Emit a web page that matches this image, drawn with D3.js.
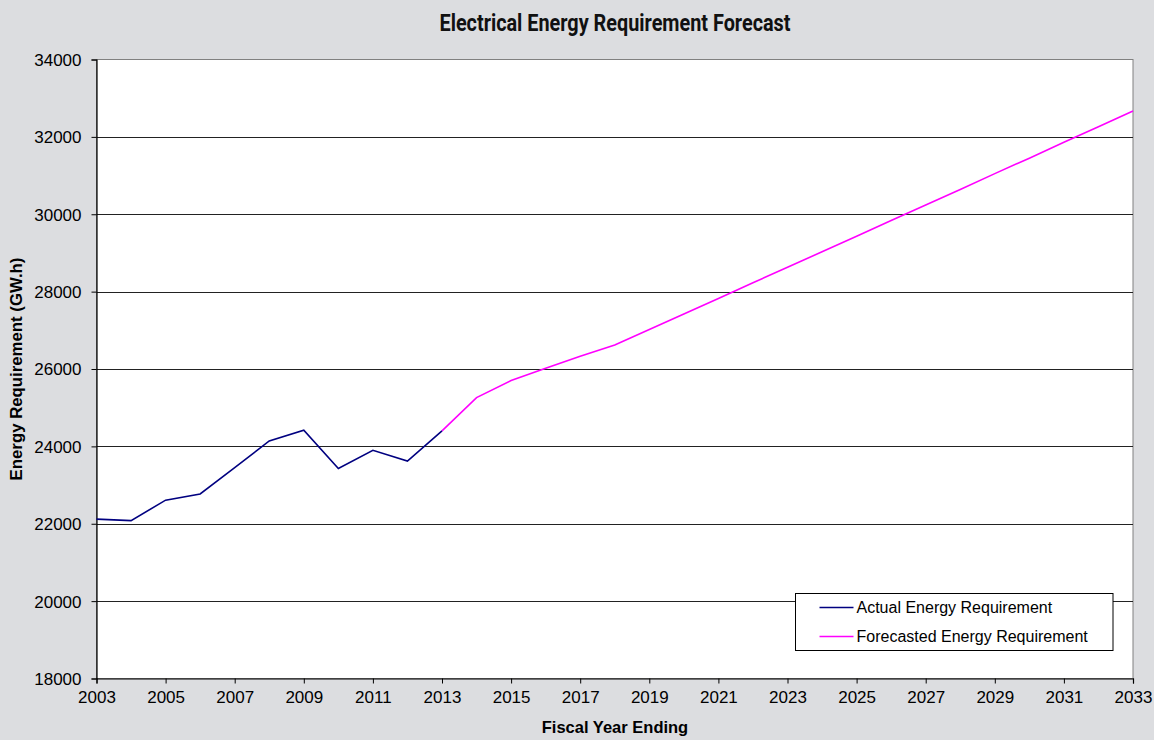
<!DOCTYPE html>
<html>
<head>
<meta charset="utf-8">
<script src="https://cdn.jsdelivr.net/npm/d3@7"></script>
<style>
  body { margin: 0; background: #dcdde0; }
  svg { display: block; }
</style>
</head>
<body>
<div id="chart"></div>
<script>
// data
const actualYears = [2003, 2004, 2005, 2006, 2007, 2008, 2009, 2010, 2011, 2012, 2013];
const actualValues = [22120, 22080, 22610, 22770, 23450, 24140, 24420, 23430, 23900, 23620, 24400];

const forecastYears = [2013, 2014, 2015, 2016, 2017, 2018, 2019, 2020, 2021, 2022, 2023,
  2024, 2025, 2026, 2027, 2028, 2029, 2030, 2031, 2032, 2033];
const forecastValues = [24400, 25260, 25700, 26020, 26330, 26620, 27020, 27420, 27820, 28230, 28630,
  29030, 29430, 29840, 30240, 30640, 31050, 31450, 31860, 32260, 32670];

const xTicks = [2003, 2005, 2007, 2009, 2011, 2013, 2015, 2017, 2019, 2021, 2023, 2025, 2027, 2029, 2031, 2033];
const yTicks = [18000, 20000, 22000, 24000, 26000, 28000, 30000, 32000, 34000];

const legendLabels = ["Actual Energy Requirement", "Forecasted Energy Requirement"];
const legendColors = ["#000080", "#ff00ff"];

const width = 1154, height = 740;
const margin = { left: 96.5, right: 21, top: 59.5, bottom: 61.5 };

const svg = d3.select("#chart").append("svg")
  .attr("width", width)
  .attr("height", height)
  .style("font-family", "Arial, 'Liberation Sans', sans-serif");

svg.append("rect").attr("width", width).attr("height", height).attr("fill", "#dcdde0");

const x = d3.scaleLinear().domain([2003, 2033]).range([margin.left, width - margin.right]);
const y = d3.scaleLinear().domain([18000, 34000]).range([height - margin.bottom, margin.top]);

// plot area
svg.append("rect")
  .attr("x", x(2003)).attr("y", y(34000))
  .attr("width", x(2033) - x(2003)).attr("height", y(18000) - y(34000))
  .attr("fill", "#fff")
  .attr("stroke", "#808080");

// gridlines
svg.append("g")
  .selectAll("line")
  .data(yTicks.filter(d => d > 18000 && d < 34000))
  .join("line")
  .attr("x1", x(2003)).attr("x2", x(2033))
  .attr("y1", d => Math.round(y(d)) + 0.5).attr("y2", d => Math.round(y(d)) + 0.5)
  .attr("stroke", "#222");

// axes
const yAxis = svg.append("g")
  .attr("transform", `translate(${x(2003)},0)`)
  .call(d3.axisLeft(y).tickValues(yTicks).tickSize(5).tickPadding(10).tickFormat(d3.format("d")));

const xAxis = svg.append("g")
  .attr("transform", `translate(0,${y(18000)})`)
  .call(d3.axisBottom(x).tickValues(xTicks).tickSize(5).tickPadding(7).tickFormat(d3.format("d")));

[yAxis, xAxis].forEach(g => {
  g.select(".domain").attr("stroke", "#000").attr("stroke-width", 1.2);
  g.selectAll(".tick line").attr("stroke", "#000");
  g.selectAll(".tick text").attr("fill", "#000").style("font-size", "17px")
    .style("font-family", "Arial, 'Liberation Sans', sans-serif");
});
yAxis.selectAll(".tick text").attr("dy", "0.35em");

// lines
const line = d3.line().x(d => x(d[0])).y(d => y(d[1]));

svg.append("path")
  .datum(forecastYears.map((yr, i) => [yr, forecastValues[i]]))
  .attr("d", line)
  .attr("fill", "none")
  .attr("stroke", legendColors[1])
  .attr("stroke-width", 1.6);

svg.append("path")
  .datum(actualYears.map((yr, i) => [yr, actualValues[i]]))
  .attr("d", line)
  .attr("fill", "none")
  .attr("stroke", legendColors[0])
  .attr("stroke-width", 1.6);

// legend
const legend = svg.append("g").attr("transform", "translate(795.5,593.5)");
legend.append("rect")
  .attr("width", 317.5).attr("height", 57)
  .attr("fill", "#fff").attr("stroke", "#000");

legendLabels.forEach((label, i) => {
  const ly = 14 + i * 29;
  legend.append("line")
    .attr("x1", 24).attr("x2", 58).attr("y1", ly).attr("y2", ly)
    .attr("stroke", legendColors[i]).attr("stroke-width", 1.6);
  legend.append("text")
    .attr("x", 61).attr("y", ly).attr("dy", "0.35em")
    .style("font-size", "16px")
    .text(label);
});

// title and axis labels
svg.append("text")
  .attr("x", 615).attr("y", 31)
  .attr("text-anchor", "middle")
  .attr("textLength", 351).attr("lengthAdjust", "spacingAndGlyphs")
  .style("font-family", "'Liberation Sans Narrow', 'Roboto', sans-serif")
  .style("font-weight", "bold").style("font-size", "24px")
  .attr("fill", "#111")
  .text("Electrical Energy Requirement Forecast");

svg.append("text")
  .attr("transform", "translate(22,369) rotate(-90)")
  .attr("text-anchor", "middle")
  .style("font-weight", "bold").style("font-size", "16.8px")
  .text("Energy Requirement (GW.h)");

svg.append("text")
  .attr("x", 615).attr("y", 733)
  .attr("text-anchor", "middle")
  .style("font-weight", "bold").style("font-size", "16.5px")
  .text("Fiscal Year Ending");
</script>
</body>
</html>
